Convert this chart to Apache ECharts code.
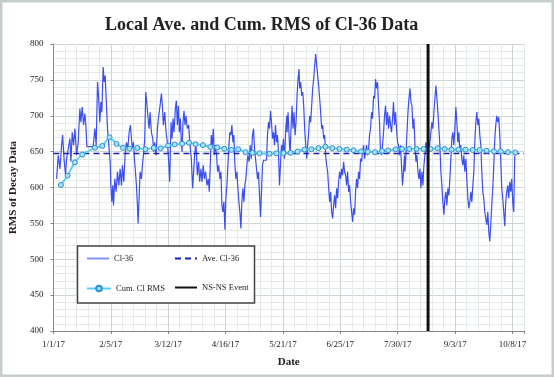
<!DOCTYPE html>
<html><head><meta charset="utf-8">
<script src="https://cdn.jsdelivr.net/npm/echarts@6.0.0/dist/echarts.min.js"></script>
<style>html,body{margin:0;padding:0;background:#fff}#c{width:554px;height:377px}</style>
</head><body><div id="c"></div>
<script>
// x values are days since 1/1/17
const tickLabels = ['1/1/17','2/5/17','3/12/17','4/16/17','5/21/17','6/25/17','7/30/17','9/3/17','10/8/17'];
const xMin = 0, xMax = 287, yMin = 400, yMax = 800;
const aveValue = 647.5;
const eventDay = 228.5;
const cl36Points = [
[1.95,612],[2.96,645],[3.98,626],[4.99,659],[5.6,673],[6.61,636],[7.43,617],[8.03,640],[9.05,654],[10.06,668],[10.67,636],[11.48,677],[12.29,659],[13.11,682],[14.12,645],[15.13,663],[16.15,710],[16.76,691],[17.57,712],[18.38,687],[19.19,703],[19.8,687],[20.41,657],[24.26,657],[25.28,682],[26.09,659],[26.9,747],[27.51,728],[28.32,691],[28.93,719],[29.54,705],[30.35,768],[30.96,747],[31.57,756],[32.38,714],[32.99,682],[33.8,659],[34.61,636],[35.02,603],[35.63,580],[36.23,603],[36.64,575],[37.45,612],[38.26,594],[39.07,622],[39.89,603],[40.7,626],[41.51,603],[42.12,631],[42.93,608],[43.74,645],[44.55,663],[45.36,654],[46.18,677],[46.99,687],[47.6,668],[48.2,654],[48.81,663],[49.42,640],[50.03,622],[50.64,603],[51.25,575],[51.65,550],[52.26,585],[52.87,622],[53.68,612],[54.29,631],[54.9,645],[55.71,668],[56.32,733],[56.93,719],[57.74,696],[58.35,682],[58.96,705],[59.77,677],[60.58,668],[61.19,650],[61.8,663],[62.61,645],[63.42,682],[64.23,700],[65.04,714],[65.85,731],[66.46,714],[67.07,687],[67.88,705],[68.7,677],[69.51,663],[70.32,636],[70.93,608],
[71.13,608],[71.73,691],[72.34,668],[72.95,696],[73.56,677],[74.37,710],[74.98,721],[75.59,687],[76.2,714],[76.81,677],[77.42,696],[78.02,663],[78.43,650],[79.04,691],[79.65,707],[80.26,687],[80.86,700],[81.68,682],[82.49,687],[83.3,659],[84.11,640],[84.92,599],[85.53,622],[86.14,645],[86.95,663],[87.76,617],[88.57,636],[89.18,608],[89.99,626],[90.6,608],[91.41,631],[92.02,612],[92.83,622],[93.65,603],[94.46,612],[95.07,594],[95.67,631],[96.28,673],[96.89,659],[97.5,682],[98.11,645],[98.72,659],[99.53,645],[100.14,622],[100.75,631],[101.56,612],[102.17,622],[102.78,575],[103.38,566],[103.99,580],[104.6,541],[105.21,585],[105.82,603],[106.43,631],[107.04,659],[107.64,677],[108.25,673],[108.86,687],[109.47,663],[110.08,673],[110.69,631],[111.3,612],[111.9,622],[112.51,599],[113.12,580],[113.73,566],[114.34,543],[114.95,580],[115.56,599],[116.17,580],[116.77,603],[117.38,612],[117.99,631],[118.6,645],[119.41,636],[120.02,659],[120.63,640],[121.44,673],[122.05,682],[122.66,654],[123.27,640],[123.87,626],[124.48,612],[125.09,622],[125.7,589],[126.31,559],[126.92,594],[127.53,631],[128.13,638],[129.96,638],[130.57,673],[131.18,691],[131.79,682],[132.4,707],[133.0,691],[133.61,668],[134.22,677],[134.83,659],[135.44,687],[136.05,663],[136.66,673],[137.26,650],[137.87,603],[138.48,631],[139.09,659],[139.7,650],[140.31,668],[140.92,640],[141.73,682],[142.34,700],
[142.5,677],[143.11,705],[143.72,673],[144.33,645],[144.93,682],[145.54,714],[146.15,682],[146.76,705],[147.37,673],[147.98,691],[148.59,728],[149.2,751],[149.8,765],[150.21,738],[150.82,747],[151.43,728],[152.04,733],[152.64,714],[153.25,682],[153.86,659],[154.47,640],[155.08,659],[155.69,677],[156.3,700],[156.9,691],[157.51,714],[158.12,738],[158.73,751],[159.34,770],[159.95,786],[160.56,770],[161.16,756],[161.77,742],[162.38,724],[162.99,705],[163.6,682],[164.21,687],[164.82,668],[165.43,673],[166.03,645],[166.64,631],[167.25,622],[167.86,599],[168.47,580],[169.08,594],[169.69,566],[170.29,557],[170.9,575],[171.51,589],[172.12,571],[172.73,599],[173.34,585],[173.95,608],[174.56,622],[175.16,612],[175.77,626],[176.38,617],[176.99,636],[177.6,622],[178.21,617],[178.82,603],[179.42,622],[180.03,594],[180.64,603],[181.25,580],[181.86,566],[182.47,552],[183.08,571],[183.68,562],[184.29,594],[184.9,612],[185.51,599],[186.12,622],[186.73,612],[187.34,640],[187.95,636],[188.55,650],[189.16,659],[189.77,640],[190.38,650],[190.99,659],[191.6,645],[192.21,654],[192.81,673],[193.42,682],[194.03,705],[194.64,696],[195.25,728],[195.86,724],[196.47,751],[197.07,738],[197.68,747],[198.29,714],[198.9,691],[199.51,650],[200.12,645],[200.73,659],[201.34,677],[201.94,700],[202.55,714],[203.16,687],[203.77,705],[204.38,682],[204.99,700],[205.6,687],[206.2,677],[206.81,696],[207.42,719],[208.03,687],[208.64,705],[209.25,682],[209.86,663],[210.46,659],[211.07,645],[211.68,659],[212.29,631],[212.9,603],[213.51,622],[214.12,645],
[214.4,622],[215.01,645],[215.62,677],[216.23,705],[216.83,724],[217.44,738],[218.05,719],[218.66,714],[219.27,682],[219.88,696],[220.49,659],[221.1,636],[221.7,645],[222.31,622],[222.92,612],[223.53,626],[224.14,599],[224.75,622],[225.36,603],[225.96,631],[226.57,645],[227.18,663],[227.79,650],[228.4,673],[229.01,650],[229.62,663],[230.22,677],[230.83,691],[231.44,682],[232.05,705],[232.66,724],[233.27,742],[233.88,724],[234.49,705],[235.09,682],[235.7,659],[236.31,622],[236.92,603],[237.53,580],[238.14,562],[238.75,585],[239.35,594],[239.96,575],[240.57,599],[241.18,589],[241.79,612],[242.4,640],[243.01,668],[243.61,677],[244.22,659],[244.83,682],[245.44,712],[246.05,691],[246.66,663],[247.27,677],[247.88,650],[248.48,659],[249.09,640],[249.7,631],[250.31,645],[250.92,622],[251.53,640],[252.14,612],[252.74,585],[253.35,571],[253.96,580],[254.57,594],[255.18,580],[255.79,603],[256.4,622],[257.0,663],[257.61,691],[258.22,705],[258.83,687],[259.44,696],[260.05,673],[260.66,659],[261.27,622],[261.87,594],[262.48,585],[263.09,566],[263.7,557],[264.31,548],[264.92,566],[265.53,538],[266.13,525],[266.74,548],[267.35,575],[267.96,599],[268.57,631],[269.18,668],[269.79,687],[270.39,700],[271.0,691],[271.61,698],[272.22,673],[272.83,636],[273.44,599],[274.05,585],[274.65,566],[275.26,546],[275.87,580],[276.48,594],[277.09,603],[277.7,585],[278.31,608],[278.92,594],[279.52,612],[280.13,580],[280.74,566],[281.35,645]
];
const cumDays = [4.56,8.64,13.1,17.6,25.3,29.8,34.2,38.5,42.5,46.4,51.2,56.1,61.2,65.4,69.9,74.0,78.5,82.7,86.7,91.2,95.7,99.9,104.2,108.6,112.7,117.2,121.4,125.7,131.8,136.0,140.3,144.6,149.0,153.1,157.3,161.6,165.9,170.1,174.4,178.9,183.1,187.6,191.8,196.1,200.4,204.2,208.7,212.7,217.0,221.5,225.7,230.0,234.3,238.7,242.8,247.0,251.3,255.7,260.0,264.2,268.7,272.8,277.2,281.7];
const cumValues = [603.5,616.5,635,645.8,655.4,658,670,660.8,655.3,654.2,655.1,653.3,655.1,654.6,658.6,660,661,662.3,660.4,659.1,656.5,655.8,654,652.4,653.3,649.2,648.4,647.8,647,647.6,648,648.4,650.2,652.8,653.3,654.8,656.8,654.8,653.8,652.8,651.8,650.3,649.8,649.3,650.8,651.8,653.3,653.8,653.8,653.8,653.8,653.8,654.8,653.8,652.8,652.8,652.8,652.3,652.3,651.3,650.3,650.3,649.3,648.8];

const serif = '"Liberation Serif","Times New Roman",serif';
const chart = echarts.init(document.getElementById('c'), null, {renderer:'canvas'});
const legendBase = {itemWidth:22, itemHeight:10, itemGap:0, padding:0, textStyle:{fontFamily:serif, fontSize:8.5, color:'#222'}};
chart.setOption({
  animation:false,
  backgroundColor:'#fff',
  title:{text:'Local Ave. and Cum. RMS of Cl-36 Data', left:100, top:11,
    textStyle:{fontFamily:serif, fontSize:18, fontWeight:'bold', color:'#222'}},
  graphic:[
    {type:'rect', shape:{x:0,y:0,width:554,height:377}, style:{fill:'none', stroke:'#c6cecd', lineWidth:5}, z:100},
    {type:'rect', shape:{x:77.5,y:246,width:177,height:57}, style:{fill:'#fff', stroke:'#444', lineWidth:1.5}, z:50}
  ],
  legend:[
    Object.assign({data:['Cl-36'], left:86, top:254, z:60, itemStyle:{opacity:0}, lineStyle:{color:'#8592f2', width:2}}, legendBase),
    Object.assign({data:['Ave. Cl-36'], left:174, top:254, z:60, itemStyle:{opacity:0}}, legendBase),
    Object.assign({data:['Cum. Cl RMS'], left:86, top:284, z:60, itemHeight:7, itemGap:0}, legendBase, {itemHeight:7, itemWidth:24}),
    Object.assign({data:['NS-NS Event'], left:174, top:283, z:60, itemStyle:{opacity:0}}, legendBase)
  ],
  grid:{left:52, right:30, top:44, bottom:46},
  xAxis:[{
    type:'value', min:xMin, max:xMax, interval:7,
    name:'Date', nameLocation:'middle', nameGap:26,
    nameTextStyle:{fontFamily:serif, fontSize:11, fontWeight:'bold', color:'#222'},
    axisLine:{show:true, lineStyle:{color:'#888', width:1}},
    axisTick:{show:false},
    axisLabel:{fontFamily:serif, fontSize:9, color:'#222', margin:9,
      formatter:v => (Math.round(v) % 35 === 0 ? tickLabels[Math.round(v)/35] : '')},
    splitLine:{show:true, lineStyle:{color:['#cdd5d5','#e3e9e9','#e3e9e9','#e3e9e9','#e3e9e9'], width:1}}
  },{
    type:'value', min:xMin, max:xMax, interval:35, position:'bottom',
    axisLine:{show:false}, axisTick:{show:true, length:3, lineStyle:{color:'#888'}},
    axisLabel:{show:false}, splitLine:{show:false}
  }],
  yAxis:{
    type:'value', min:yMin, max:yMax, interval:50,
    name:'RMS of Decay Data', nameLocation:'middle', nameGap:33,
    nameTextStyle:{fontFamily:serif, fontSize:11, fontWeight:'bold', color:'#222'},
    axisLine:{show:true, lineStyle:{color:'#888', width:1}},
    axisTick:{show:true, length:3, lineStyle:{color:'#888'}},
    axisLabel:{fontFamily:serif, fontSize:9, color:'#222', margin:10},
    splitLine:{show:true, lineStyle:{color:'#cdd5d5'}},
    minorTick:{show:false, splitNumber:5},
    minorSplitLine:{show:true, lineStyle:{color:'#e3e9e9'}}
  },
  series:[
    {name:'Cl-36', type:'line', data:cl36Points, symbol:'none', z:2,
      lineStyle:{color:'#3a4ff0', width:1.2}, itemStyle:{color:'#3a4ff0'}},
    {name:'Ave. Cl-36', type:'line', data:[[xMin,aveValue],[xMax,aveValue]], symbol:'none', z:3,
      lineStyle:{color:'#1c20b0', width:1.5, type:[6,4]}, itemStyle:{color:'#1c20b0'}},
    {name:'Cum. Cl RMS', type:'line', data:cumDays.map((d,i)=>[d,cumValues[i]]), z:4,
      symbol:'circle', symbolSize:5, smooth:0.2,
      lineStyle:{color:'#55cff5', width:1.8},
      itemStyle:{color:'#a6e4fb', borderColor:'#2d8fd6', borderWidth:1}},
    {name:'NS-NS Event', type:'line', data:[[eventDay,yMin],[eventDay,yMax]], symbol:'none', z:5,
      lineStyle:{color:'#111', width:3}, itemStyle:{color:'#111'}}
  ]
});
</script>
</body></html>
